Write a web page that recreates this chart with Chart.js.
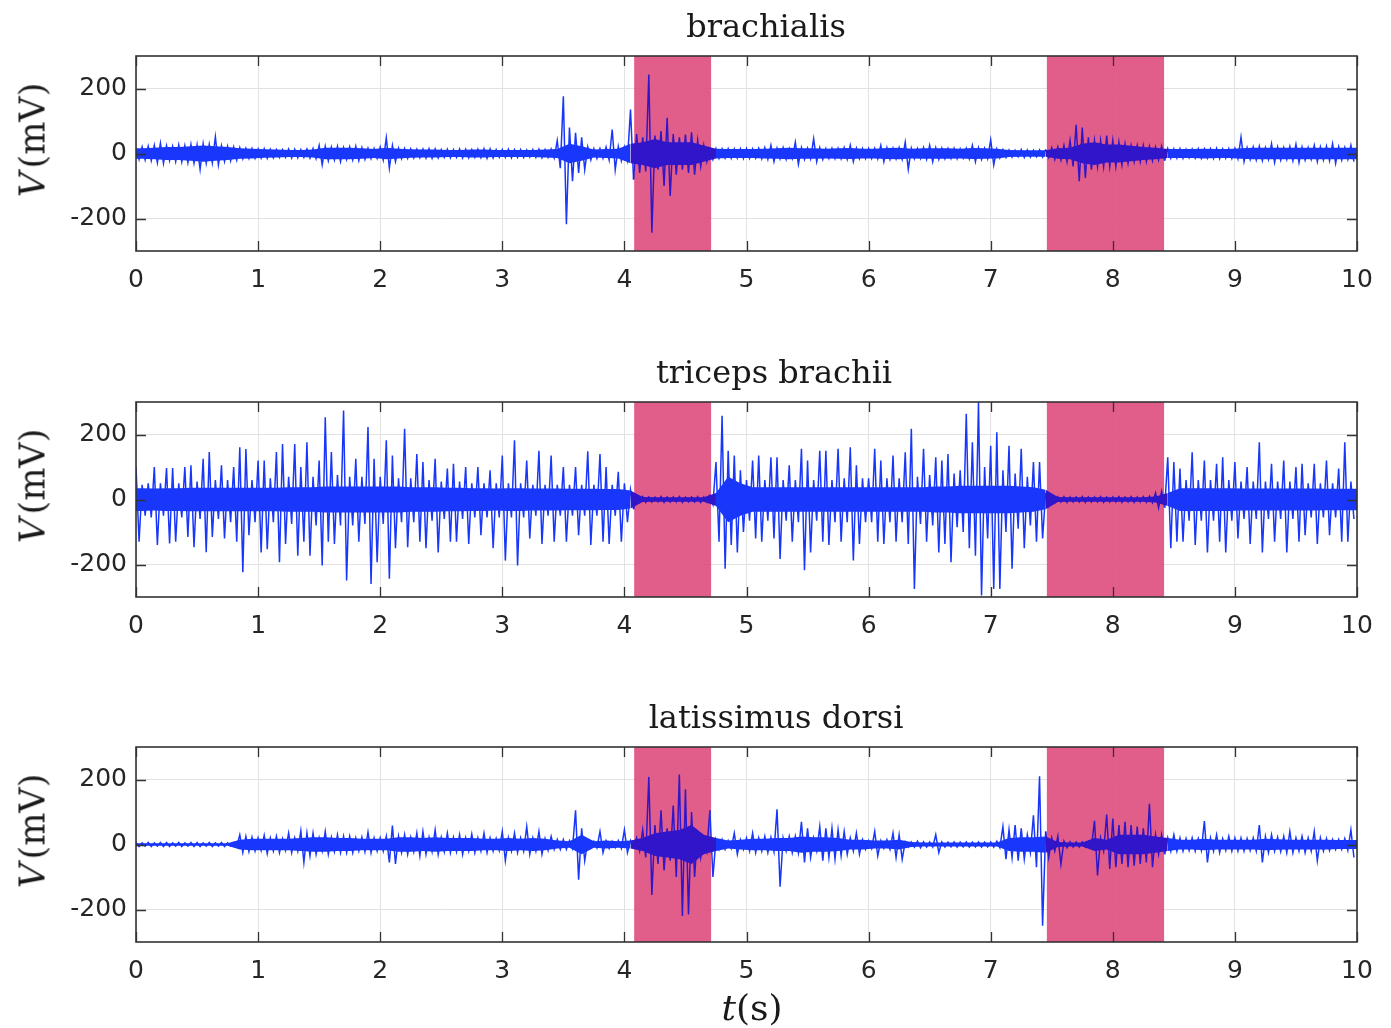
<!DOCTYPE html>
<html>
<head>
<meta charset="utf-8">
<script src="https://cdn.jsdelivr.net/npm/chart.js@4.4.1/dist/chart.umd.min.js"></script>
<style>
  body { margin: 0; background: #fff; width: 1391px; height: 1028px; overflow: hidden; position: relative; }
  canvas { position: absolute; left: 0; }
  .ttl { position: absolute; font-family: 'DejaVu Serif'; font-size: 32px; line-height: 1; color: #1a1a1a; transform: translateX(-50%); white-space: nowrap; }
  .ylab { position: absolute; font-family: 'DejaVu Serif'; font-size: 35px; line-height: 1; color: #1a1a1a; transform: translate(-50%, -50%) rotate(-90deg); white-space: nowrap; }
  .xlab { position: absolute; font-family: 'DejaVu Serif'; font-size: 36px; line-height: 1; color: #1a1a1a; transform: translateX(-50%); white-space: nowrap; }
</style>
</head>
<body>
<script>
// spike bins: 0.05 s, each with a max (Hi) and min (Lo) in mV
const timeStep = 0.05;
// dense noise band: 0.1 s bins, half-width in mV
const coreStep = 0.1;
const yTicks = [-200, 0, 200];
const shadeStart = [4.08, 7.46];
const shadeEnd = [4.71, 8.42];
const muscles = ['brachialis', 'triceps brachii', 'latissimus dorsi'];

const brachialisHi = [
  18,20,22,25,32,24,22,26,24,28,26,30,28,51,24,22,20,18,16,15,
  14,15,13,12,12,14,13,12,14,15,25,22,20,22,18,20,22,18,16,15,
  20,48,25,16,15,14,13,14,15,14,12,13,12,14,13,12,13,15,14,12,
  12,13,12,12,11,12,13,12,14,40,176,80,64,50,20,15,15,20,74,22,
  20,135,60,50,243,55,69,110,60,50,58,65,40,25,18,15,14,15,14,15,
  15,14,16,18,25,16,18,15,35,18,16,45,18,15,16,16,18,25,16,15,
  15,16,25,18,16,18,35,16,15,18,25,18,16,15,16,14,16,25,18,16,
  42,14,12,11,10,12,11,10,11,12,18,20,25,40,88,80,50,40,40,55,
  40,35,30,25,25,25,22,20,22,15,14,15,13,14,15,14,15,16,14,15,
  16,50,18,20,22,18,30,20,18,22,28,20,18,25,20,22,30,20,18,25
];
const brachialisLo = [
  -18,-20,-22,-28,-30,-22,-25,-26,-28,-30,-49,-30,-28,-35,-24,-22,-20,-16,-15,-15,
  -14,-15,-13,-12,-12,-14,-13,-12,-14,-16,-35,-22,-20,-25,-18,-20,-22,-18,-16,-15,
  -20,-45,-25,-16,-15,-14,-13,-14,-15,-14,-12,-13,-12,-14,-13,-12,-13,-15,-14,-12,
  -12,-13,-12,-12,-11,-12,-13,-12,-14,-45,-218,-85,-60,-50,-20,-15,-15,-20,-50,-22,
  -20,-80,-60,-55,-244,-50,-100,-131,-65,-50,-60,-65,-40,-25,-18,-15,-14,-15,-14,-15,
  -15,-14,-16,-18,-25,-16,-18,-15,-33,-18,-16,-25,-18,-15,-16,-16,-18,-25,-16,-15,
  -15,-16,-25,-18,-16,-18,-48,-16,-15,-18,-25,-18,-16,-15,-16,-14,-16,-25,-18,-16,
  -35,-14,-12,-11,-10,-12,-11,-10,-11,-12,-18,-20,-25,-40,-85,-75,-50,-40,-40,-40,
  -40,-35,-30,-25,-25,-25,-22,-20,-22,-15,-14,-15,-13,-14,-15,-14,-15,-16,-14,-15,
  -16,-25,-18,-20,-22,-18,-28,-20,-18,-22,-28,-20,-18,-25,-20,-22,-30,-20,-18,-25
];
const brachialisCore = [
  16,18,20,20,22,25,22,20,16,15,
  13,12,11,11,12,18,18,18,16,14,
  18,15,13,12,12,11,11,12,12,11,
  11,11,11,12,14,30,22,12,14,15,
  30,35,45,35,35,35,25,15,14,14,
  14,15,16,18,16,16,15,16,17,15,
  15,17,18,15,16,16,16,15,17,16,
  15,11,10,10,10,16,18,30,35,28,
  28,24,20,18,14,14,14,15,14,14,
  16,18,18,18,18,18,18,18,18,18
];

const tricepsHi = [
  100,45,50,100,50,97,97,50,100,105,55,125,146,60,105,60,100,161,155,60,
  120,120,65,146,171,70,171,100,176,70,120,253,146,75,274,70,125,70,223,125,
  70,182,135,65,218,65,140,115,60,125,55,95,110,55,100,50,100,50,90,50,
  135,50,182,50,120,45,150,45,135,45,100,45,100,45,148,45,140,100,45,85,
  50,30,8,9,8,7,9,8,8,9,7,8,9,8,15,115,258,150,135,90,
  60,120,135,60,130,130,60,105,60,156,120,60,150,150,60,156,65,161,105,65,
  65,156,120,65,135,65,145,218,70,156,75,130,120,140,80,90,264,176,300,100,
  165,207,90,165,80,156,70,115,115,20,10,8,9,8,8,9,8,8,9,8,
  8,9,8,9,8,9,10,20,25,130,115,95,60,145,60,120,60,110,130,60,
  115,55,100,55,176,55,110,55,120,55,100,110,50,110,50,120,50,95,176,55
];
const tricepsLo = [
  -130,-50,-55,-140,-50,-135,-130,-55,-115,-147,-60,-162,-115,-60,-120,-70,-130,-224,-110,-70,
  -163,-153,-70,-193,-137,-75,-173,-130,-173,-80,-203,-130,-137,-80,-249,-80,-130,-75,-260,-193,
  -75,-244,-150,-70,-147,-70,-130,-150,-65,-163,-60,-130,-130,-60,-137,-55,-110,-55,-150,-55,
  -188,-55,-203,-55,-120,-50,-137,-50,-130,-50,-130,-50,-110,-50,-140,-50,-130,-137,-50,-130,
  -70,-30,-8,-9,-8,-7,-9,-8,-8,-9,-7,-8,-9,-8,-15,-130,-213,-140,-163,-100,
  -65,-120,-130,-65,-120,-183,-65,-130,-70,-218,-163,-65,-130,-140,-70,-130,-70,-188,-137,-70,
  -70,-130,-137,-70,-130,-70,-137,-275,-75,-130,-80,-163,-137,-193,-85,-100,-150,-173,-295,-120,
  -275,-275,-100,-213,-90,-150,-80,-130,-120,-20,-10,-8,-9,-8,-8,-9,-8,-8,-9,-8,
  -8,-9,-8,-9,-8,-9,-10,-25,-25,-150,-130,-130,-65,-140,-65,-163,-65,-130,-163,-65,
  -120,-60,-137,-60,-163,-60,-130,-60,-163,-60,-130,-110,-55,-137,-55,-110,-55,-130,-130,-60
];
const tricepsCore = [
  35,34,35,35,36,36,36,36,36,36,
  36,36,38,38,38,40,40,40,40,40,
  40,40,38,38,38,36,36,35,35,34,
  35,35,34,34,34,33,33,33,32,32,
  28,8,7,7,7,7,7,20,70,50,
  38,38,38,38,38,38,38,38,38,38,
  38,38,38,38,38,40,40,42,42,42,
  42,42,40,38,30,8,7,7,7,7,
  7,7,7,9,20,35,35,35,35,35,
  34,34,34,34,34,34,34,33,33,33
];

const latissimusHi = [
  6,5,6,5,6,6,5,6,5,6,6,5,6,5,6,5,6,30,25,22,
  20,28,20,25,18,35,20,42,35,35,20,40,22,30,25,25,20,22,38,20,
  20,25,58,25,30,22,35,40,22,45,22,35,22,30,20,32,20,35,20,18,
  40,20,35,20,55,20,40,18,25,15,15,12,105,50,10,10,40,12,10,12,
  45,12,20,45,208,60,105,50,120,215,170,100,40,20,105,15,15,12,35,15,
  20,35,20,25,22,108,20,25,25,70,50,20,55,50,50,45,40,20,35,15,
  12,40,12,15,35,30,8,8,10,8,8,30,8,7,8,7,8,7,8,7,
  8,10,55,45,60,50,30,90,210,40,20,25,10,8,8,8,8,73,20,92,
  80,60,70,60,55,50,125,30,30,20,30,20,18,20,18,72,20,30,18,25,
  20,20,18,20,60,25,30,22,25,40,20,25,20,40,20,18,15,15,18,45
];
const latissimusLo = [
  -6,-5,-6,-5,-6,-6,-5,-6,-5,-6,-6,-5,-6,-5,-6,-5,-6,-25,-22,-20,
  -18,-28,-20,-25,-18,-25,-20,-55,-35,-30,-20,-30,-22,-25,-25,-25,-20,-22,-25,-20,
  -20,-55,-60,-25,-30,-22,-35,-30,-22,-30,-22,-25,-22,-30,-20,-25,-20,-25,-20,-18,
  -50,-20,-25,-20,-30,-20,-30,-18,-15,-15,-15,-12,-108,-50,-10,-10,-25,-12,-10,-12,
  -25,-12,-20,-40,-155,-60,-80,-50,-100,-220,-215,-100,-40,-20,-100,-15,-15,-12,-30,-15,
  -20,-25,-20,-25,-22,-130,-20,-25,-25,-55,-40,-20,-50,-40,-45,-35,-30,-20,-30,-15,
  -12,-35,-12,-15,-40,-45,-8,-8,-10,-8,-8,-25,-8,-7,-8,-7,-8,-7,-8,-7,
  -8,-10,-45,-40,-50,-45,-25,-70,-250,-40,-20,-60,-10,-8,-8,-8,-8,-95,-20,-75,
  -70,-60,-70,-65,-60,-55,-70,-30,-30,-20,-20,-20,-18,-20,-18,-55,-20,-25,-18,-20,
  -20,-20,-18,-20,-55,-25,-20,-22,-25,-25,-20,-25,-20,-50,-20,-18,-15,-15,-18,-40
];
const latissimusCore = [
  4,4,4,4,4,4,4,4,15,18,
  18,18,18,20,22,22,20,20,18,18,
  18,22,22,20,22,20,20,20,18,18,
  20,18,20,18,12,10,30,10,12,10,
  12,20,35,40,45,60,30,20,12,15,
  18,18,20,20,25,22,22,20,15,15,
  12,12,15,8,6,6,6,6,6,6,
  6,20,22,22,25,8,6,6,20,15,
  30,30,30,25,20,15,15,18,15,15,
  15,15,18,16,15,15,15,15,14,14
];

const series = [
  [brachialisHi, brachialisLo, brachialisCore],
  [tricepsHi, tricepsLo, tricepsCore],
  [latissimusHi, latissimusLo, latissimusCore]
];

// page layout
const canvasTop = [0, 346, 691];
const canvasH = [345, 345, 337];
const titleX = [766, 774, 776];
const plotTop = 56, plotH = 195, axisW = 136, padRight = 34;
const lineBlue = 'rgb(25,55,250)';
const shadedBlue = 'rgb(48,22,200)';

function trace(hi, lo) {
  const pts = [];
  hi.forEach((v, i) => {
    pts.push({ x: i * timeStep, y: v });
    pts.push({ x: i * timeStep + timeStep / 2, y: lo[i] });
  });
  return pts;
}

function band(core, sign) {
  const pts = [{ x: 0, y: sign * core[0] }];
  core.forEach((v, i) => pts.push({ x: i * coreStep + coreStep / 2, y: sign * v }));
  pts.push({ x: core.length * coreStep, y: sign * core[core.length - 1] });
  return pts;
}

const inShade = t => shadeStart.some((s, i) => t >= s && t < shadeEnd[i]);
const segColor = c => inShade((c.p0.parsed.x + c.p1.parsed.x) / 2) ? shadedBlue : lineBlue;

const shade = {
  id: 'shade',
  beforeDatasetsDraw(chart) {
    const { ctx, chartArea: a, scales: { x } } = chart;
    ctx.save();
    ctx.fillStyle = 'rgba(222,80,128,0.92)';
    shadeStart.forEach((s, i) => {
      const x0 = x.getPixelForValue(s), x1 = x.getPixelForValue(shadeEnd[i]);
      ctx.fillRect(x0, a.top, x1 - x0, a.height);
    });
    ctx.restore();
  }
};

// matlab style box with inward ticks
const frame = {
  id: 'frame',
  afterDraw(chart) {
    const { ctx, chartArea: a, scales: { x, y } } = chart;
    const len = 10;
    ctx.save();
    ctx.strokeStyle = '#333';
    ctx.lineWidth = 1.3;
    ctx.beginPath();
    x.ticks.forEach(t => {
      const px = Math.round(x.getPixelForValue(t.value)) + 0.5;
      ctx.moveTo(px, a.top); ctx.lineTo(px, a.top + len);
      ctx.moveTo(px, a.bottom); ctx.lineTo(px, a.bottom - len);
    });
    y.ticks.forEach(t => {
      const py = Math.round(y.getPixelForValue(t.value)) + 0.5;
      ctx.moveTo(a.left, py); ctx.lineTo(a.left + len, py);
      ctx.moveTo(a.right, py); ctx.lineTo(a.right - len, py);
    });
    ctx.stroke();
    ctx.lineWidth = 1.6;
    ctx.strokeRect(a.left, a.top, a.width, a.height);
    ctx.restore();
  }
};

const tickFont = { family: 'DejaVu Sans', size: 25 };

series.forEach(([hi, lo, core], k) => {
  const cv = document.createElement('canvas');
  cv.width = 1391;
  cv.height = canvasH[k];
  cv.style.top = canvasTop[k] + 'px';
  document.body.appendChild(cv);

  new Chart(cv.getContext('2d'), {
    type: 'line',
    data: {
      datasets: [
        { data: band(core, 1), borderWidth: 0, borderColor: lineBlue, pointRadius: 0, tension: 0, fill: false },
        {
          data: band(core, -1), borderWidth: 0, borderColor: lineBlue, backgroundColor: lineBlue,
          pointRadius: 0, tension: 0, fill: '-1',
          segment: { backgroundColor: segColor }
        },
        {
          data: trace(hi, lo), borderColor: lineBlue, borderWidth: 1.5, pointRadius: 0, tension: 0, fill: false,
          segment: { borderColor: segColor }
        }
      ]
    },
    options: {
      responsive: false,
      animation: false,
      devicePixelRatio: 1,
      events: [],
      layout: { padding: { left: 0, right: padRight, top: plotTop, bottom: 0 } },
      plugins: { legend: { display: false }, tooltip: { enabled: false }, title: { display: false } },
      scales: {
        x: {
          type: 'linear', min: 0, max: 10,
          ticks: { stepSize: 1, autoSkip: false, maxRotation: 0, padding: 14, font: tickFont, color: '#262626' },
          grid: { color: '#e2e2e2', drawTicks: false },
          border: { display: false },
          afterFit(s) { s.height = canvasH[k] - plotTop - plotH; }
        },
        y: {
          min: -300, max: 300,
          afterBuildTicks(s) { s.ticks = yTicks.map(v => ({ value: v })); },
          ticks: { padding: 9, font: tickFont, color: '#262626' },
          grid: { color: '#e2e2e2', drawTicks: false },
          border: { display: false },
          afterFit(s) { s.width = axisW; }
        }
      }
    },
    plugins: [shade, frame]
  });

  const ttl = document.createElement('div');
  ttl.className = 'ttl';
  ttl.textContent = muscles[k];
  ttl.style.left = titleX[k] + 'px';
  ttl.style.top = (canvasTop[k] + 10) + 'px';
  document.body.appendChild(ttl);

  const yl = document.createElement('div');
  yl.className = 'ylab';
  yl.innerHTML = '<i>V</i>&#8202;(mV)';
  yl.style.left = '33px';
  yl.style.top = (canvasTop[k] + plotTop + plotH / 2 - 14) + 'px';
  document.body.appendChild(yl);
});

const xl = document.createElement('div');
xl.className = 'xlab';
xl.innerHTML = '<i>t</i>(s)';
xl.style.left = '752px';
xl.style.top = '990px';
document.body.appendChild(xl);
</script>
</body>
</html>
